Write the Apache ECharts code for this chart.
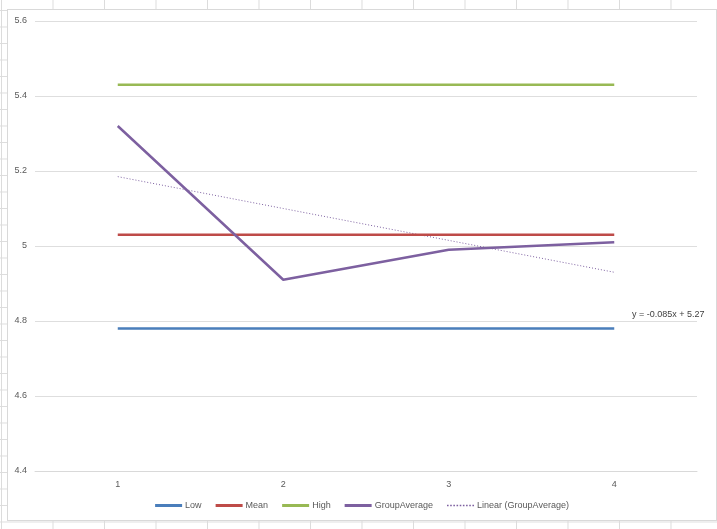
<!DOCTYPE html>
<html>
<head>
<meta charset="utf-8">
<script src="https://cdn.jsdelivr.net/npm/echarts@6/dist/echarts.min.js"></script>
<style>
  html, body { margin: 0; padding: 0; }
  body {
    width: 717px; height: 529px; overflow: hidden; position: relative;
    background-color: #fff;
    background-image:
      linear-gradient(to right, #dcdcdc 1px, transparent 1px),
      linear-gradient(to bottom, #dcdcdc 1px, transparent 1px);
    background-size: 51.5px 100%, 100% 16.5px;
    background-position: 1px 0, 0 10px;
  }
  #chart {
    position: absolute; left: 7px; top: 9px; width: 710px; height: 512px;
    background: #fff; border: 1px solid #d9d9d9; box-sizing: border-box;
  }
</style>
</head>
<body>
<div id="chart"></div>
<script>
// 数据
var categories = ["1", "2", "3", "4"];
var lowValues = [4.78, 4.78, 4.78, 4.78];
var meanValues = [5.03, 5.03, 5.03, 5.03];
var highValues = [5.43, 5.43, 5.43, 5.43];
var groupAverage = [5.32, 4.91, 4.99, 5.01];
var trendValues = [5.185, 5.1, 5.015, 4.93];
var trendLabel = "y = -0.085x + 5.27";

var font = "'Liberation Sans', Arial, sans-serif";
var myChart = echarts.init(document.getElementById("chart"));

// 图例图标：实线 / 点线
var solidIcon = "path://M0,0h27v3h-27z";
var dotIcon = "path://M0,0h1.5v1.5h-1.5z M3,0h1.5v1.5h-1.5z M6,0h1.5v1.5h-1.5z M9,0h1.5v1.5h-1.5z M12,0h1.5v1.5h-1.5z M15,0h1.5v1.5h-1.5z M18,0h1.5v1.5h-1.5z M21,0h1.5v1.5h-1.5z M24,0h1.5v1.5h-1.5z";

function lineSeries(name, data, color) {
  return {
    name: name,
    type: "line",
    data: data,
    symbol: "none",
    lineStyle: { color: color, width: 2.5 },
    itemStyle: { color: color },
    z: 3
  };
}

myChart.setOption({
  animation: false,
  textStyle: { fontFamily: font },
  grid: { left: 27, right: 19, top: 11, bottom: 49 },
  legend: {
    bottom: 5,
    left: "center",
    itemWidth: 27,
    itemHeight: 3,
    itemGap: 14,
    textStyle: { fontSize: 9, color: "#595959", fontFamily: font, padding: [0, 0, 0, -2] },
    data: [
      { name: "Low", icon: solidIcon },
      { name: "Mean", icon: solidIcon },
      { name: "High", icon: solidIcon },
      { name: "GroupAverage", icon: solidIcon },
      { name: "Linear (GroupAverage)", icon: dotIcon }
    ]
  },
  xAxis: {
    type: "category",
    data: categories,
    boundaryGap: true,
    axisLine: { lineStyle: { color: "#d9d9d9" } },
    axisTick: { show: false },
    axisLabel: { color: "#595959", fontSize: 9, margin: 9 }
  },
  yAxis: {
    type: "value",
    min: 4.4,
    max: 5.6,
    interval: 0.2,
    axisLine: { show: false },
    axisTick: { show: false },
    axisLabel: { color: "#595959", fontSize: 9, margin: 8 },
    splitLine: { lineStyle: { color: "#dedede" } }
  },
  series: [
    lineSeries("Low", lowValues, "#4a7ebb"),
    lineSeries("Mean", meanValues, "#be4b48"),
    lineSeries("High", highValues, "#98b954"),
    lineSeries("GroupAverage", groupAverage, "#7d60a0"),
    {
      name: "Linear (GroupAverage)",
      type: "line",
      data: trendValues,
      symbol: "none",
      lineStyle: { color: "#7d60a0", width: 1, type: [1, 2] },
      itemStyle: { color: "#7d60a0" },
      z: 2
    }
  ],
  graphic: [
    {
      type: "text",
      left: 624,
      top: 300,
      style: { text: trendLabel, fontSize: 9, fill: "#404040", fontFamily: font }
    }
  ]
});
</script>
</body>
</html>
